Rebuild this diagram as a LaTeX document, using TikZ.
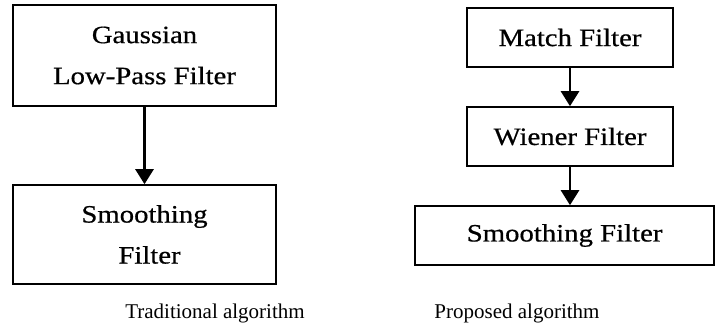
\documentclass[tikz,border=0pt]{standalone}
\usepackage{fontspec}
\setmainfont{Liberation Serif}
\newfontfamily\boxfont[FakeStretch=1.15,FakeBold=0.6]{Liberation Serif}
\usetikzlibrary{arrows.meta,positioning}

\tikzset{
  filterbox/.style = {draw, line width=1.6pt, inner sep=0pt, align=center,
                      font=\boxfont\fontsize{25}{41}\selectfont},
  flow/.style      = {line width=2.6pt, -{Triangle[width=18pt,length=15pt]}},
  caption/.style   = {font=\fontsize{21}{24}\selectfont}
}

\begin{document}
\begin{tikzpicture}[x=1pt, y=-1pt]
      \useasboundingbox (0,0) rectangle (715,331);
      % traditional chain
      \node (gauss)   at (144.5, 55.5)  [filterbox, minimum width=263pt, minimum height=101pt] {Gaussian \\ Low-Pass Filter};
      \node (smoothL) at (144.5, 234.5) [filterbox, minimum width=263pt, minimum height=99pt] {Smoothing \\ \hspace{10pt}Filter};
      % proposed chain
      \node (match)   at (570, 37.5)    [filterbox, minimum width=206pt, minimum height=59pt] {Match Filter};
      \node (wiener)  at (570, 136.5)   [filterbox, minimum width=206pt, minimum height=59pt] {Wiener Filter};
      \node (smoothR) at (564.6, 235.5) [filterbox, minimum width=299pt, minimum height=59pt] {Smoothing Filter};
      \draw[flow] (gauss) -- (smoothL);
      \draw[flow] (match) -- (wiener);
      \draw[flow] (wiener.south) -- (wiener.south |- smoothR.north);
      \node (tradcap) at (215, 313) [caption] {Traditional algorithm};
      \node (propcap) at (517, 313) [caption] {Proposed algorithm};
    \end{tikzpicture}
\end{document}
